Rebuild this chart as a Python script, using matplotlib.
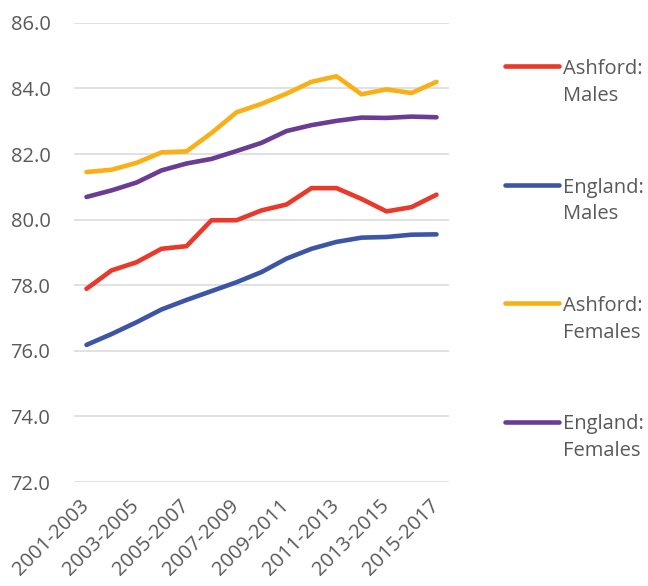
import matplotlib
matplotlib.use("Agg")
import matplotlib.pyplot as plt
from matplotlib.lines import Line2D

plt.rcParams['font.family'] = ['Open Sans', 'DejaVu Sans']

periods = ["2001-2003", "2002-2004", "2003-2005", "2004-2006", "2005-2007",
           "2006-2008", "2007-2009", "2008-2010", "2009-2011", "2010-2012",
           "2011-2013", "2012-2014", "2013-2015", "2014-2016", "2015-2017"]

ashford_males = [77.89, 78.45, 78.70, 79.11, 79.19, 79.98, 79.98, 80.28,
                 80.46, 80.96, 80.96, 80.63, 80.25, 80.38, 80.76]
england_males = [76.18, 76.51, 76.87, 77.26, 77.55, 77.82, 78.09, 78.40,
                 78.81, 79.11, 79.32, 79.45, 79.47, 79.54, 79.55]
ashford_females = [81.45, 81.52, 81.73, 82.05, 82.08, 82.64, 83.27, 83.53,
                   83.84, 84.20, 84.37, 83.82, 83.97, 83.86, 84.20]
england_females = [80.69, 80.89, 81.13, 81.50, 81.71, 81.85, 82.09, 82.34,
                   82.70, 82.88, 83.01, 83.11, 83.10, 83.14, 83.12]

series = [
    ("Ashford:\nMales", ashford_males, "#E8392A"),
    ("England:\nMales", england_males, "#3C56A5"),
    ("Ashford:\nFemales", ashford_females, "#F9B016"),
    ("England:\nFemales", england_females, "#6A3C93"),
]

text_color = "#595959"
W, H = 648, 586
fig = plt.figure(figsize=(W / 100, H / 100), dpi=100)
ax = fig.add_axes([74 / W, (H - 482) / H, 375 / W, 459.2 / H])

x = list(range(len(periods)))
for label, vals, color in series:
    ax.plot(x, vals, color=color, lw=3.3, solid_capstyle='round',
            solid_joinstyle='round', zorder=3)

ax.set_ylim(72, 86)
ax.set_xlim(-0.5, len(periods) - 0.5)
ax.set_yticks([72, 74, 76, 78, 80, 82, 84, 86])
ax.set_yticklabels([f"{v:.1f}" for v in [72, 74, 76, 78, 80, 82, 84, 86]])
ax.grid(axis='y', color='#D9D9D9', lw=1.1, zorder=0)
ax.set_axisbelow(True)
for s in ax.spines.values():
    s.set_visible(False)

ax.set_xticks(x[::2])
ax.set_xticklabels(periods[::2], rotation=45, ha='right', va='center',
                   rotation_mode='anchor')
ax.tick_params(axis='both', length=0, labelsize=14.5, labelcolor=text_color)
ax.tick_params(axis='y', pad=17)
ax.tick_params(axis='x', pad=15)

# legend drawn on the right, one entry per series
leg_y = [66, 184.5, 303, 421.5]
for (label, vals, color), yy in zip(series, leg_y):
    yf = (H - yy) / H
    fig.add_artist(Line2D([505 / W, 559 / W], [yf, yf], color=color, lw=3.3,
                          solid_capstyle='round', transform=fig.transFigure))
    fig.text(563 / W, (H - yy + 7) / H, label, fontsize=14.5, color=text_color,
             ha='left', va='top', linespacing=1.45,
             transform=fig.transFigure)

fig.savefig("out.png", dpi=100, facecolor='white')
